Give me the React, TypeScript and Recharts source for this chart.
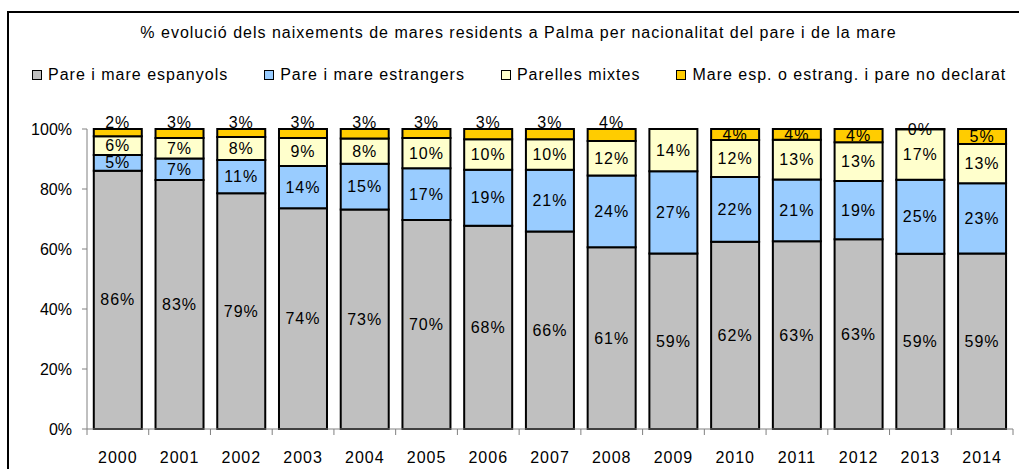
import { Bar, BarChart, LabelList, XAxis, YAxis } from "recharts";

const years = ["2000", "2001", "2002", "2003", "2004", "2005", "2006", "2007", "2008", "2009", "2010", "2011", "2012", "2013", "2014"];
const spanishParents = [85.8, 83.0, 78.6, 73.6, 73.2, 69.7, 67.7, 65.8, 60.6, 58.5, 62.4, 62.6, 63.0, 58.6, 58.5];
const foreignParents = [5.3, 7.2, 11.1, 14.1, 15.2, 17.2, 18.6, 20.5, 23.9, 27.4, 21.6, 20.6, 19.3, 24.7, 23.4];
const mixedCouples = [6.2, 6.8, 7.6, 9.3, 8.4, 10.1, 10.2, 10.2, 11.5, 14.1, 12.3, 13.2, 12.9, 16.9, 13.1];
const fatherUndeclared = [2.4, 3.0, 2.7, 3.0, 3.2, 3.0, 3.4, 3.4, 4.0, null, 3.7, 3.6, 4.4, 0.1, 5.0];
const yTicks = [0, 0.2, 0.4, 0.6, 0.8, 1];

const series = [
  { key: "spanish", name: "Pare i mare espanyols", color: "#C0C0C0" },
  { key: "foreign", name: "Pare i mare estrangers", color: "#99CCFF" },
  { key: "mixed", name: "Parelles mixtes", color: "#FFFFCC" },
  { key: "undeclared", name: "Mare esp. o estrang. i pare no declarat", color: "#FFCC00" },
];

const data = years.map((year, i) => ({
  year,
  spanish: spanishParents[i],
  foreign: foreignParents[i],
  mixed: mixedCouples[i],
  undeclared: fatherUndeclared[i],
}));

const FONT = '"Liberation Sans", Arial, sans-serif';
const AXIS = "#808080";
// in the original the small top labels of the first years sit above the bar
const RAISED_TOP_LABELS = 9;

function YearTick(props: any) {
  const { x, y, payload, index, visibleTicksCount } = props;
  const half = payload?.offset ?? 30.9;
  return (
    <g>
      <line x1={x - half} x2={x - half} y1={y} y2={y + 6} stroke={AXIS} />
      {index === visibleTicksCount - 1 && <line x1={x + half} x2={x + half} y1={y} y2={y + 6} stroke={AXIS} />}
      <text x={x} y={y + 28} textAnchor="middle" dominantBaseline="central" fontSize={16} letterSpacing={1} fill="#000">
        {payload.value}
      </text>
    </g>
  );
}

function makeLabel(raised: boolean) {
  return (props: any) => {
    const { x, y, width, height, index, value } = props;
    const v = Array.isArray(value) ? value[1] - value[0] : value;
    if (v === null || v === undefined || Number.isNaN(v)) return null;
    const cy = raised && index < RAISED_TOP_LABELS ? y - 7 : y + height / 2;
    return (
      <text key={index} x={x + width / 2} y={cy} textAnchor="middle" dominantBaseline="central" fontSize={16} letterSpacing={1} fill="#000">
        {`${Math.round(Number(v))}%`}
      </text>
    );
  };
}

export default function App() {
  return (
    <div style={{ position: "relative", width: 1019, height: 469, overflow: "hidden", background: "#fff", fontFamily: FONT }}>
      <style>{`body{margin:0;overflow:hidden}`}</style>
      <div style={{ position: "absolute", left: 7, top: 11, width: 1030, height: 480, border: "2px solid #000" }} />
      <div style={{ position: "absolute", left: 7, top: 23, width: 1023, textAlign: "center", fontSize: 16, letterSpacing: 1, lineHeight: "20px", color: "#000" }}>
        % evolució dels naixements de mares residents a Palma per nacionalitat del pare i de la mare
      </div>
      <div style={{ position: "absolute", left: 32, top: 65, height: 20, display: "flex", alignItems: "center", gap: 36, fontSize: 16, letterSpacing: 1, color: "#000", whiteSpace: "nowrap" }}>
        {series.map((s) => (
          <div key={s.key} style={{ display: "flex", alignItems: "center", gap: 6 }}>
            <span style={{ width: 8, height: 8, border: "1.5px solid #000", background: s.color, display: "inline-block" }} />
            <span>{s.name}</span>
          </div>
        ))}
      </div>
      <div style={{ position: "absolute", left: 0, top: 0 }}>
        <BarChart
          width={1019}
          height={469}
          data={data}
          stackOffset="expand"
          barCategoryGap="11%"
          margin={{ top: 129, right: 6, bottom: 0, left: 27 }}
          style={{ fontFamily: FONT }}
        >
          <YAxis
            width={60}
            domain={[0, 1]}
            ticks={yTicks}
            tickFormatter={(v) => `${Math.round(v * 100)}%`}
            axisLine={{ stroke: AXIS }}
            tickLine={{ stroke: AXIS }}
            tickSize={5}
            tickMargin={10}
            tick={{ fontSize: 16, fill: "#000" }}
          />
          <XAxis
            dataKey="year"
            height={40}
            interval={0}
            tickLine={false}
            tickSize={0}
            tickMargin={0}
            axisLine={{ stroke: AXIS }}
            tick={<YearTick />}
          />
          {series.map((s, i) => (
            <Bar key={s.key} dataKey={s.key} stackId="births" fill={s.color} stroke="#000" strokeWidth={2} isAnimationActive={false}>
              <LabelList dataKey={s.key} content={makeLabel(i === series.length - 1)} />
            </Bar>
          ))}
        </BarChart>
      </div>
    </div>
  );
}
